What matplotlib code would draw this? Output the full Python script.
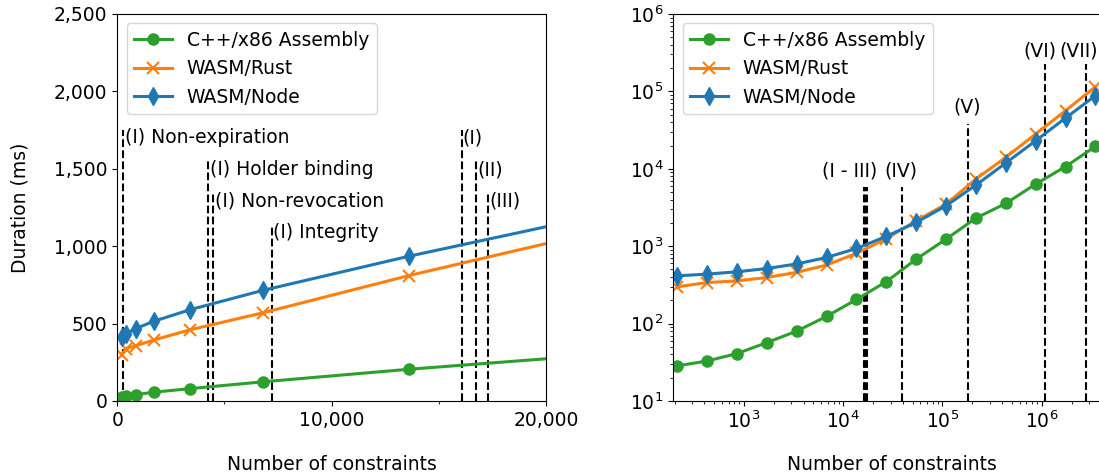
import matplotlib
matplotlib.use("Agg")
import matplotlib.pyplot as plt
import matplotlib.ticker as mticker

# ---- data ----
constraints = [212, 425, 850, 1700, 3400, 6800, 13600, 27200, 54400, 108800,
               217600, 435200, 870400, 1740800, 3481600]
cpp_ms = [28.4, 32.9, 41, 56.8, 80, 124, 205, 349, 681, 1236,
          2310, 3570, 6360, 10700, 19500]
rust_ms = [299, 339, 356, 394, 460, 570, 810, 1250, 2130, 3500,
           7380, 14100, 28200, 56500, 115000]
node_ms = [414, 436, 467, 515, 590, 715, 935, 1340, 2030, 3335,
           6170, 11900, 23100, 45400, 88300]

series_names = ["C++/x86 Assembly", "WASM/Rust", "WASM/Node"]

# left-plot annotations (x position, line top, label, label y)
left_marks_x = [280, 4245, 4480, 7200, 16060, 16730, 17300]
left_marks_top = [1750, 1550, 1340, 1140, 1750, 1550, 1350]
left_marks_label = ["(I) Non-expiration", "(I) Holder binding", "(I) Non-revocation",
                    "(I) Integrity", "(I)", "(II)", "(III)"]
left_marks_label_y = [1700, 1495, 1295, 1090, 1700, 1495, 1295]

# right-plot annotations
right_marks_x = [16060, 16730, 17300, 38700, 179000, 1070000, 2780000]
right_marks_top = [5900, 5900, 5900, 5900, 37900, 227000, 227000]
right_labels = ["(I - III)", "(IV)", "(V)", "(VI)", "(VII)"]
right_labels_x = [11700, 38000, 179000, 950000, 2350000]
right_labels_y = [9450, 9450, 62000, 337000, 337000]

colors = ["#2ca02c", "#ff7f0e", "#1f77b4"]
markers = ["o", "x", "d"]
values = [cpp_ms, rust_ms, node_ms]

FS = 13.5
plt.rcParams['font.family'] = ['DejaVu Sans']
plt.rcParams['font.size'] = FS

fig = plt.figure(figsize=(10.99, 4.76), dpi=100)
W, H = 1099, 476
ax1 = fig.add_axes([117.3 / W, (H - 401) / H, (546 - 117.3) / W, (401 - 14) / H])
ax2 = fig.add_axes([673.3 / W, (H - 401) / H, 437.8 / W, (401 - 14) / H])

for ax in (ax1, ax2):
    for name, vals, c, m in zip(series_names, values, colors, markers):
        kw = dict(color=c, marker=m, lw=2.2, label=name)
        if m == "o":
            kw.update(ms=8)
        elif m == "x":
            kw.update(ms=8, mew=1.5)
        else:
            kw.update(ms=9)
        ax.plot(constraints, vals, **kw)

# left plot
ax1.set_xlim(0, 20000)
ax1.set_ylim(0, 2500)
ax1.xaxis.set_major_locator(mticker.MultipleLocator(10000))
ax1.xaxis.set_minor_locator(mticker.MultipleLocator(5000))
ax1.yaxis.set_major_locator(mticker.MultipleLocator(500))
fmt = mticker.FuncFormatter(lambda v, p: f"{int(v):,}")
ax1.xaxis.set_major_formatter(fmt)
ax1.yaxis.set_major_formatter(fmt)
for x, top in zip(left_marks_x, left_marks_top):
    ax1.plot([x, x], [0, top], color="black", ls="--", lw=1.5, zorder=1)
for x, lab, ly in zip(left_marks_x, left_marks_label, left_marks_label_y):
    ax1.text(x + 60, ly, lab, ha="left", va="center", fontsize=FS)
ax1.set_ylabel("Duration (ms)")
ax1.set_xlabel("Number of constraints")
ax1.xaxis.set_label_coords(0.5, -0.14)
ax1.yaxis.set_label_coords(-0.204, 0.5)
ax1.legend(loc="upper left", fontsize=FS)

# right plot
ax2.set_xscale("log")
ax2.set_yscale("log")
ax2.set_xlim(194, 5e6)
ax2.set_ylim(10, 1e6)
for x, top in zip(right_marks_x, right_marks_top):
    ax2.plot([x, x], [10, top], color="black", ls="--", lw=1.5, zorder=1)
for lab, lx, ly in zip(right_labels, right_labels_x, right_labels_y):
    ax2.text(lx, ly, lab, ha="center", va="center", fontsize=FS)
ax2.set_xlabel("Number of constraints")
ax2.xaxis.set_label_coords(0.5, -0.14)
ax2.legend(loc="upper left", fontsize=FS)

fig.savefig("out.png", dpi=100)
